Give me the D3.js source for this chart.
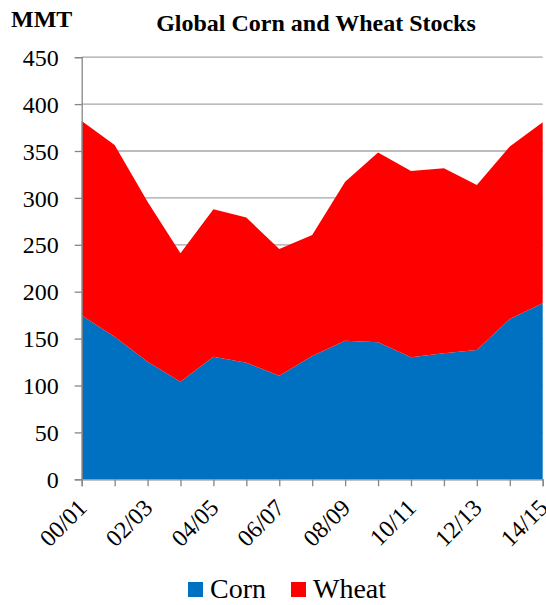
<!DOCTYPE html>
<html><head><meta charset="utf-8">
<script src="https://cdn.jsdelivr.net/npm/d3@7"></script>
<style>body{margin:0;background:#fff}svg{display:block}text{font-family:'Liberation Serif','Times New Roman',serif}</style>
</head><body>
<script>
const years = ["00/01","01/02","02/03","03/04","04/05","05/06","06/07","07/08","08/09","09/10","10/11","11/12","12/13","13/14","14/15"];
const corn  = [174.5,152,125.4,104,130.7,124.3,110.5,131.5,147.8,146,130,134.3,137.9,171,187.7];
const wheat = [207.5,204.5,170.6,137,157.3,154.7,135.1,129,169.5,202.3,198.7,197.3,175.9,183.7,193];
const yTicks = [0,50,100,150,200,250,300,350,400,450];
const xLabels = ["00/01","02/03","04/05","06/07","08/09","10/11","12/13","14/15"];
const seriesNames = ["Corn","Wheat"];
const colors = ["#0070C0","#FF0000"];

const W=546,H=605;
const m={l:81.7,r:3.3,t:57.2,b:125.7};
const svg=d3.select("body").append("svg").attr("width",W).attr("height",H);
const font="'Liberation Serif','Times New Roman',serif";

const x=d3.scalePoint().domain(years).range([m.l,W-m.r]);
const y=d3.scaleLinear().domain([0,450]).range([H-m.b,m.t]);

// gridlines
svg.append("g").selectAll("line").data(yTicks.filter(d=>d>0)).join("line")
  .attr("x1",m.l).attr("x2",W-m.r).attr("y1",d=>y(d)).attr("y2",d=>y(d))
  .attr("stroke","#A6A6A6").attr("stroke-width",1.3);

const table=years.map((yr,i)=>({year:yr,Corn:corn[i],Wheat:wheat[i]}));
const stack=d3.stack().keys(seriesNames)(table);
const area=d3.area().x(d=>x(d.data.year)).y0(d=>y(d[0])).y1(d=>y(d[1]));
svg.append("g").selectAll("path").data(stack).join("path")
  .attr("d",area).attr("fill",(d,i)=>colors[i]);

// y axis
const ya=svg.append("g").attr("transform",`translate(${m.l},0)`)
  .call(d3.axisLeft(y).tickValues(yTicks).tickSize(7).tickPadding(16));
ya.attr("font-family",null);
ya.select(".domain").attr("stroke","#868686").attr("stroke-width",1.3);
ya.selectAll(".tick line").attr("stroke","#868686").attr("stroke-width",1.3);
ya.selectAll("text").style("font-family",font).style("font-size","24px").attr("fill","#000").attr("dy","0.34em");

// x axis
const xa=svg.append("g").attr("transform",`translate(0,${H-m.b})`)
  .call(d3.axisBottom(x).tickSize(7).tickFormat(d=>xLabels.includes(d)?d:""));
xa.attr("font-family",null);
xa.select(".domain").attr("stroke","#868686").attr("stroke-width",1.3);
xa.selectAll(".tick line").attr("stroke","#868686").attr("stroke-width",1.3);
xa.selectAll("text").style("font-family",font).style("font-size","24px").attr("fill","#000")
  .attr("text-anchor","end").attr("dy",0).attr("y",0)
  .attr("transform","translate(6,30) rotate(-45)");

// title
svg.append("text").attr("x",316).attr("y",31).attr("text-anchor","middle")
  .style("font-family",font).style("font-weight","bold").style("font-size","24px").text("Global Corn and Wheat Stocks");
svg.append("text").attr("x",11).attr("y",27)
  .style("font-family",font).style("font-weight","bold").style("font-size","24px").text("MMT");

// legend
const lg=svg.append("g");
const legX=[188,291];
seriesNames.forEach((n,i)=>{
  lg.append("rect").attr("x",legX[i]).attr("y",582).attr("width",15).attr("height",15).attr("fill",colors[i]);
  lg.append("text").attr("x",legX[i]+22).attr("y",598).style("font-family",font).style("font-size","28px").text(n);
});
</script>
</body></html>
